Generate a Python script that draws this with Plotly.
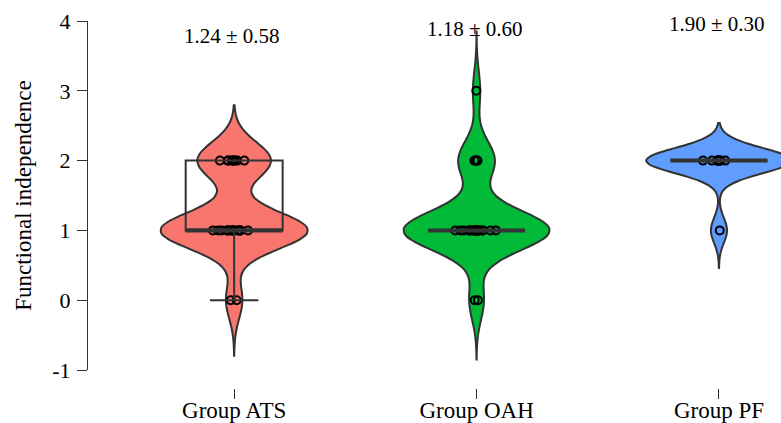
import numpy as np
import plotly.graph_objects as go

# ---- data ----
groups = ["Group ATS", "Group OAH", "Group PF"]
ats_values = [0] * 2 + [1] * 18 + [2] * 9
oah_values = [0] * 2 + [1] * 20 + [2] * 5 + [3] * 1
pf_values = [1] * 1 + [2] * 9
group_values = [ats_values, oah_values, pf_values]
summary_labels = ["1.24 \u00b1 0.58", "1.18 \u00b1 0.60", "1.90 \u00b1 0.30"]
summary_label_y = [3.78, 3.88, 3.96]
y_ticks = [-1, 0, 1, 2, 3, 4]
y_tick_text = ["-1", "0", "1", "2", "3", "4"]

# ---- styles ----
fill_colors = ["#F8766D", "#00BA38", "#619CFF"]
outline = "#333333"
violin_width = 0.6
box_width = 0.4
font_family = "Liberation Serif"


def nrd0(x):
    x = np.asarray(x, dtype=float)
    hi = np.std(x, ddof=1)
    q75, q25 = np.percentile(x, [75, 25])
    lo = min(hi, (q75 - q25) / 1.34)
    if not lo:
        lo = hi or abs(x[0]) or 1.0
    return 0.9 * lo * len(x) ** (-0.2)


def box_stats(x):
    x = np.asarray(x, dtype=float)
    q1, med, q3 = np.percentile(x, [25, 50, 75])
    iqr = q3 - q1
    lf = x[x >= q1 - 1.5 * iqr].min()
    uf = x[x <= q3 + 1.5 * iqr].max()
    return q1, med, q3, lf, uf


fig = go.Figure()

for i, vals in enumerate(group_values):
    bw = nrd0(vals)
    fig.add_trace(go.Violin(
        x=[i] * len(vals), y=vals, width=violin_width, bandwidth=bw,
        spanmode="manual", span=[min(vals) - 3 * bw, max(vals) + 3 * bw],
        scalemode="width", fillcolor=fill_colors[i], opacity=1,
        line=dict(color=outline, width=2), points=False,
        box_visible=False, meanline_visible=False, showlegend=False,
        name=groups[i], hoverinfo="skip",
    ))

for i, vals in enumerate(group_values):
    q1, med, q3, lf, uf = box_stats(vals)
    fig.add_trace(go.Box(
        x=[i], q1=[q1], median=[med], q3=[q3], lowerfence=[lf], upperfence=[uf],
        width=box_width, whiskerwidth=0.5, fillcolor="rgba(0,0,0,0)",
        line=dict(color=outline, width=2), boxpoints=False,
        showlegend=False, hoverinfo="skip",
    ))
    fig.add_trace(go.Box(
        x=[i], q1=[med], median=[med], q3=[med], lowerfence=[med], upperfence=[med],
        width=box_width, whiskerwidth=0, fillcolor="rgba(0,0,0,0)",
        line=dict(color=outline, width=4), boxpoints=False,
        showlegend=False, hoverinfo="skip",
    ))

for i, vals in enumerate(group_values):
    bw = nrd0(vals)
    fig.add_trace(go.Violin(
        x=[i] * len(vals), y=vals, width=violin_width, bandwidth=bw,
        fillcolor="rgba(0,0,0,0)", line=dict(color="rgba(0,0,0,0)", width=0),
        points="all", jitter=0.3, pointpos=0,
        marker=dict(symbol="circle-open", size=8, color="black",
                    line=dict(width=2, color="black")),
        box_visible=False, meanline_visible=False, showlegend=False,
        name=groups[i] + " points", hoverinfo="skip",
    ))

for i, lab in enumerate(summary_labels):
    fig.add_annotation(x=i, y=summary_label_y[i], text=lab, showarrow=False,
                       xshift=-2, font=dict(family=font_family, size=21, color="black"))

fig.update_layout(
    width=781, height=423,
    margin=dict(l=88, r=0, t=21, b=35, autoexpand=False),
    paper_bgcolor="white", plot_bgcolor="white",
    font=dict(family=font_family, size=22, color="black"),
    violinmode="overlay", boxmode="overlay",
    xaxis=dict(
        range=[-0.603, 2.256], tickmode="array", tickvals=[0, 1, 2], ticktext=groups,
        anchor="free", position=0, showline=False, showgrid=False, zeroline=False,
        ticks="outside", ticklen=10, tickcolor=outline, tickwidth=1,
        automargin=False, ticklabelstandoff=-9,
        tickfont=dict(family=font_family, size=23, color="black"),
    ),
    yaxis=dict(
        range=[-1, 4], domain=[0.049, 1], tickmode="array", tickvals=y_ticks,
        ticktext=y_tick_text,
        showline=True, linecolor=outline, linewidth=1, showgrid=False, zeroline=False,
        ticks="outside", ticklen=10, tickcolor=outline, tickwidth=1,
        automargin=False, ticklabelstandoff=2,
        title=dict(text="Functional independence", standoff=14,
                   font=dict(family=font_family, size=23, color="black")),
    ),
)

fig.write_html(
    "out.html",
    config={"displayModeBar": False},
    post_script="document.body.style.margin='0';document.body.style.overflow='hidden';",
)
